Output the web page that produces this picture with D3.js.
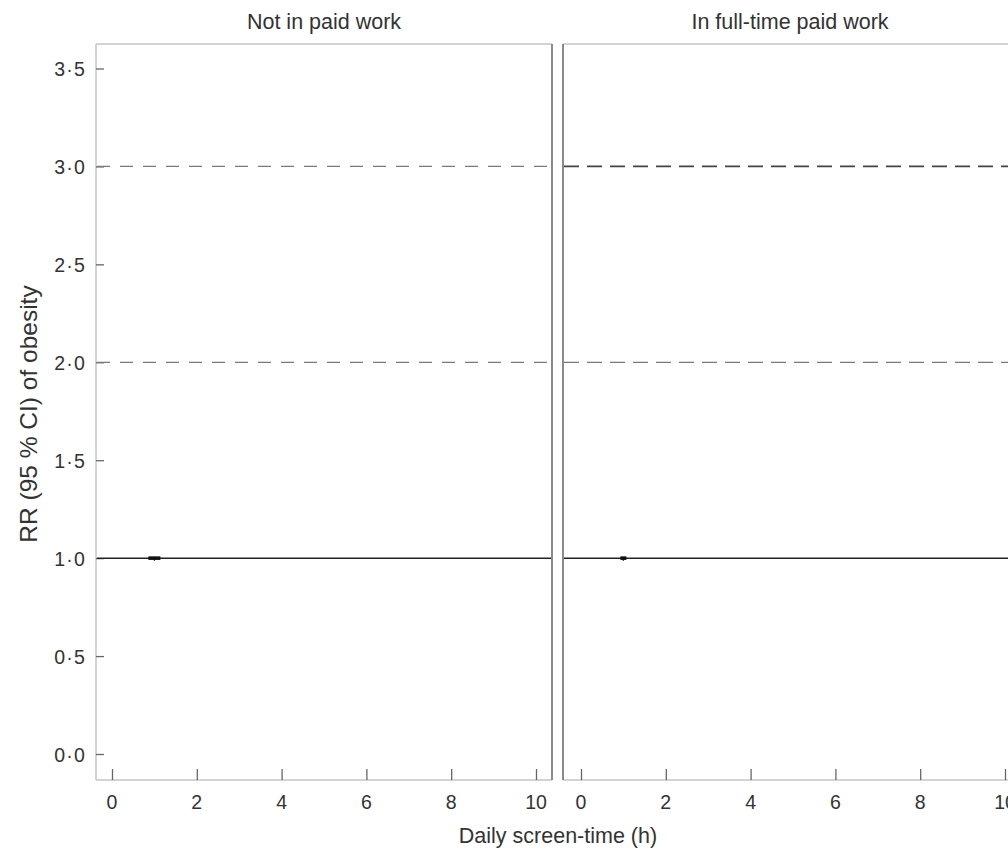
<!DOCTYPE html>
<html><head><meta charset="utf-8">
<script src="https://cdn.jsdelivr.net/npm/d3@7"></script>
<style>
html,body{margin:0;padding:0;background:#fff;overflow:hidden}
text{font-family:"Liberation Sans",Arial,Helvetica,sans-serif;fill:#333}
</style></head><body>
<svg id="c" width="1008" height="853"></svg>
<script>
// ---- data ----
const panels = ["Not in paid work", "In full-time paid work"];
const yTicks = [0, 0.5, 1.0, 1.5, 2.0, 2.5, 3.0, 3.5];
const xTicks = [0, 2, 4, 6, 8, 10];
const refSolid = [1.0];
const refDashed = [2.0, 3.0];
// estimated RR (95% CI) points per panel (reference category at 1 h)
const pointPanel = [0, 1];
const pointX = [1, 1];
const pointRR = [1.0, 1.0];
const pointLo = [1.0, 1.0];
const pointHi = [1.0, 1.0];
const yLabel = "RR (95\u00a0% CI) of obesity";
const xLabel = "Daily screen-time (h)";

(function () {
// ---- layout ----
const svg = d3.select("#c");
const frameTop = 44, frameBottom = 780;
const panelBox = [{x0: 96, x1: 552, off: 16}, {x0: 563, x1: 1019, off: 18}];
const y = d3.scaleLinear().domain([0, 3.5]).range([754, 68.5]);
const fmt = d => d.toFixed(1).replace(".", "\u00b7");
const titleX = [324, 790];

panelBox.forEach((pb, i) => {
  const x = d3.scaleLinear().domain([0, 10]).range([pb.x0 + pb.off, pb.x0 + pb.off + 424]);
  const g = svg.append("g");
  // frame
  g.append("line").attr("x1", pb.x0).attr("x2", pb.x1).attr("y1", frameTop).attr("y2", frameTop)
    .attr("stroke", "#c4c4c4").attr("stroke-width", 1.5);
  g.append("line").attr("x1", pb.x0).attr("x2", pb.x1).attr("y1", frameBottom).attr("y2", frameBottom)
    .attr("stroke", "#c4c4c4").attr("stroke-width", 1.5);
  g.append("line").attr("x1", pb.x0).attr("x2", pb.x0).attr("y1", frameTop).attr("y2", frameBottom)
    .attr("stroke", i ? "#8a8a8a" : "#c4c4c4").attr("stroke-width", i ? 2 : 1.5);
  g.append("line").attr("x1", pb.x1).attr("x2", pb.x1).attr("y1", frameTop).attr("y2", frameBottom)
    .attr("stroke", "#8a8a8a").attr("stroke-width", 2);

  // title
  g.append("text").attr("x", titleX[i]).attr("y", 29)
    .attr("text-anchor", "middle").attr("font-size", 21.5).text(panels[i]);

  // x axis ticks (inward)
  const xa = g.append("g").attr("transform", `translate(0,${frameBottom})`)
    .call(d3.axisTop(x).tickValues(xTicks).tickSize(11).tickFormat(""));
  xa.select(".domain").remove();
  xa.selectAll("line").attr("stroke", "#666").attr("stroke-width", 1.3);
  g.selectAll(".xl").data(xTicks).join("text").attr("class", "xl")
    .attr("x", d => x(d)).attr("y", 809).attr("text-anchor", "middle")
    .attr("font-size", 19.5).text(d => d);

  // y axis only on first panel
  if (i === 0) {
    const ya = g.append("g").attr("transform", `translate(${pb.x0},0)`)
      .call(d3.axisRight(y).tickValues(yTicks).tickSize(8).tickFormat(""));
    ya.select(".domain").remove();
    ya.selectAll("line").attr("stroke", "#666").attr("stroke-width", 1.3);
    g.selectAll(".yl").data(yTicks).join("text").attr("class", "yl")
      .attr("x", 86).attr("y", d => y(d) + 7.5).attr("text-anchor", "end")
      .attr("font-size", 19.5).attr("letter-spacing", 1.2).text(fmt);
  }

  // reference lines
  g.selectAll(".ds").data(refDashed).join("line").attr("class", "ds")
    .attr("x1", pb.x0 + 1).attr("x2", pb.x1 - 1)
    .attr("y1", d => y(d)).attr("y2", d => y(d))
    .attr("stroke", d => i && d === 3 ? "#444" : "#7a7a7a")
    .attr("stroke-width", d => i && d === 3 ? 1.8 : 1.2)
    .attr("stroke-dasharray", i ? "15,8" : "13,10");
  g.selectAll(".sl").data(refSolid).join("line").attr("class", "sl")
    .attr("x1", pb.x0 + 1).attr("x2", pb.x1 - 1)
    .attr("y1", d => y(d)).attr("y2", d => y(d))
    .attr("stroke", "#222").attr("stroke-width", 1.5);

  // points with CI
  pointPanel.forEach((p, k) => {
    if (p !== i) return;
    g.append("line").attr("x1", x(pointX[k])).attr("x2", x(pointX[k]))
      .attr("y1", y(pointHi[k]) - 1).attr("y2", y(pointLo[k]) + 2.5)
      .attr("stroke", "#111").attr("stroke-width", 1.2);
    g.append("rect").attr("x", x(pointX[k]) - (i ? 3 : 6)).attr("y", y(pointRR[k]) - 1.8)
      .attr("width", i ? 6 : 12).attr("height", 3.6).attr("fill", "#111");
  });
});

// axis titles
svg.append("text").attr("transform", "translate(37,414) rotate(-90)")
  .attr("text-anchor", "middle").attr("font-size", 24.5).text(yLabel);
svg.append("text").attr("x", 558).attr("y", 843).attr("text-anchor", "middle")
  .attr("font-size", 21.5).text(xLabel);
})();
</script></body></html>
